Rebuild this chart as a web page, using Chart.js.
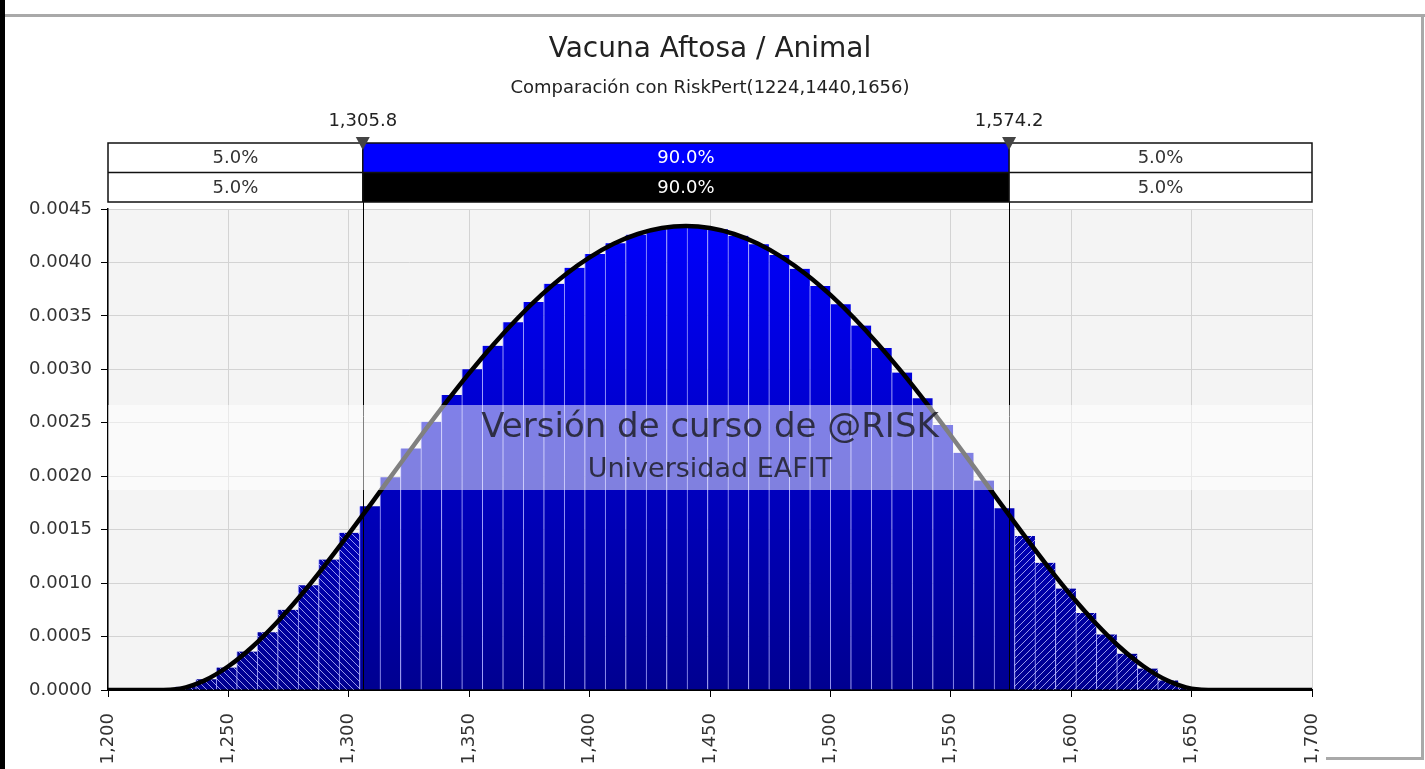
<!DOCTYPE html>
<html>
<head>
<meta charset="utf-8">
<script src="https://cdn.jsdelivr.net/npm/chart.js@4/dist/chart.umd.min.js"></script>
<style>
  html, body { margin: 0; padding: 0; background: #fff; }
  #wrap { position: relative; width: 1425px; height: 769px; overflow: hidden; }
  #c { position: absolute; left: 0; top: 0; }
  .edge { position: absolute; }
</style>
</head>
<body>
<div id="wrap">
  <canvas id="c" width="1425" height="769"></canvas>
  <div class="edge" style="left:0;top:0;width:5px;height:769px;background:#000"></div>
  <div class="edge" style="left:5px;top:14px;width:1420px;height:3px;background:#a9a9a9"></div>
  <div class="edge" style="left:1421px;top:14px;width:3px;height:746px;background:#a9a9a9"></div>
  <div class="edge" style="left:1326px;top:757px;width:98px;height:3px;background:#a9a9a9"></div>
</div>
<script>
// histogram bins (centre of each bin) and simulated density
const binCenters = [1232.2, 1240.7, 1249.2, 1257.7, 1266.2, 1274.7, 1283.2, 1291.7, 1300.2, 1308.7,
  1317.2, 1325.7, 1334.2, 1342.7, 1351.2, 1359.7, 1368.2, 1376.7, 1385.2, 1393.7,
  1402.2, 1410.7, 1419.2, 1427.7, 1436.2, 1444.7, 1453.2, 1461.7, 1470.2, 1478.7,
  1487.2, 1495.7, 1504.2, 1512.7, 1521.2, 1529.7, 1538.2, 1546.7, 1555.2, 1563.7,
  1572.2, 1580.7, 1589.2, 1597.7, 1606.2, 1614.7, 1623.2, 1631.7, 1640.2, 1648.7];
const density = [0.00003, 0.00010, 0.00021, 0.00036, 0.00054, 0.00075, 0.00098, 0.00122, 0.00147, 0.00172,
  0.00199, 0.00226, 0.00251, 0.00276, 0.00300, 0.00322, 0.00344, 0.00363, 0.00380, 0.00395,
  0.00408, 0.00418, 0.00426, 0.00431, 0.00434, 0.00433, 0.00431, 0.00425, 0.00417, 0.00407,
  0.00394, 0.00378, 0.00361, 0.00341, 0.00320, 0.00297, 0.00273, 0.00248, 0.00222, 0.00196,
  0.00170, 0.00144, 0.00119, 0.00095, 0.00072, 0.00052, 0.00034, 0.00020, 0.00009, 0.00002];

// RiskPert(1224,1440,1656) comparison curve
const curveX = [1200, 1210, 1220, 1230, 1240, 1250, 1260, 1270, 1280, 1290,
  1300, 1310, 1320, 1330, 1340, 1350, 1360, 1370, 1380, 1390,
  1400, 1410, 1420, 1430, 1440, 1450, 1460, 1470, 1480, 1490,
  1500, 1510, 1520, 1530, 1540, 1550, 1560, 1570, 1580, 1590,
  1600, 1610, 1620, 1630, 1640, 1650, 1660, 1670, 1680, 1690, 1700];
const curveY = [0, 0, 0, 0.000013, 0.000088, 0.000222, 0.000405, 0.000629, 0.000884, 0.001164,
  0.001460, 0.001765, 0.002075, 0.002381, 0.002679, 0.002964, 0.003231, 0.003476, 0.003696, 0.003888,
  0.004048, 0.004175, 0.004266, 0.004322, 0.004340, 0.004322, 0.004266, 0.004175, 0.004048, 0.003888,
  0.003696, 0.003476, 0.003231, 0.002964, 0.002679, 0.002381, 0.002075, 0.001765, 0.001460, 0.001164,
  0.000884, 0.000629, 0.000405, 0.000222, 0.000088, 0.000013, 0, 0, 0, 0, 0];

const cutoffs = [1305.8, 1574.2];
const bandSim = ['5.0%', '90.0%', '5.0%'];
const bandFit = ['5.0%', '90.0%', '5.0%'];
const titleText = 'Vacuna Aftosa / Animal';
const subtitleText = 'Comparación con RiskPert(1224,1440,1656)';
const watermark = ['Versión de curso de @RISK', 'Universidad EAFIT'];

const FONT = '"DejaVu Sans", Verdana, sans-serif';
const canvas = document.getElementById('c');
const ctx = canvas.getContext('2d');

function hatch(up) {
  const t = document.createElement('canvas');
  t.width = 7; t.height = 7;
  const g = t.getContext('2d');
  g.strokeStyle = 'rgba(190,190,255,0.8)';
  g.lineWidth = 1;
  g.beginPath();
  if (up) { g.moveTo(-1, 8); g.lineTo(8, -1); }
  else { g.moveTo(-1, -1); g.lineTo(8, 8); }
  g.stroke();
  return ctx.createPattern(t, 'repeat');
}
const hatchLeft = hatch(false);
const hatchRight = hatch(true);

const plotBg = {
  id: 'plotBg',
  beforeDraw(chart) {
    const a = chart.chartArea, c = chart.ctx;
    c.save();
    c.fillStyle = '#f4f4f4';
    c.fillRect(a.left, a.top, a.right - a.left, a.bottom - a.top);
    c.restore();
  }
};

const decor = {
  id: 'decor',
  afterDatasetsDraw(chart) {
    const a = chart.chartArea, c = chart.ctx, xs = chart.scales.x;
    const cx = (a.left + a.right) / 2;
    const x1 = xs.getPixelForValue(cutoffs[0]);
    const x2 = xs.getPixelForValue(cutoffs[1]);
    const r1 = a.top - 66, rh = 29.5;
    c.save();
    // titles
    c.fillStyle = '#222';
    c.textAlign = 'center';
    c.textBaseline = 'middle';
    c.font = '28px ' + FONT;
    c.fillText(titleText, cx, 50);
    c.font = '18px ' + FONT;
    c.fillText(subtitleText, cx, 88);

    // delimiter lines
    c.strokeStyle = '#000';
    c.lineWidth = 1;
    [x1, x2].forEach(x => {
      c.beginPath();
      c.moveTo(Math.round(x) + 0.5, r1);
      c.lineTo(Math.round(x) + 0.5, a.bottom);
      c.stroke();
    });

    // percentage bars
    c.fillStyle = '#fff';
    c.fillRect(a.left, r1, a.right - a.left, rh * 2);
    c.fillStyle = '#0000ff';
    c.fillRect(x1, r1, x2 - x1, rh);
    c.fillStyle = '#000';
    c.fillRect(x1, r1 + rh, x2 - x1, rh);
    c.lineWidth = 1.5;
    c.strokeStyle = '#111';
    c.strokeRect(a.left, r1, a.right - a.left, rh * 2);
    c.beginPath();
    c.moveTo(a.left, r1 + rh); c.lineTo(a.right, r1 + rh);
    c.moveTo(x1, r1); c.lineTo(x1, r1 + 2 * rh);
    c.moveTo(x2, r1); c.lineTo(x2, r1 + 2 * rh);
    c.stroke();

    c.font = '18px ' + FONT;
    const mids = [(a.left + x1) / 2, (x1 + x2) / 2, (x2 + a.right) / 2];
    [bandSim, bandFit].forEach((row, r) => {
      row.forEach((t, i) => {
        c.fillStyle = i === 1 ? '#fff' : '#333';
        c.fillText(t, mids[i], r1 + rh * r + rh / 2 + 1);
      });
    });

    // delimiter markers
    cutoffs.forEach((v, i) => {
      const x = i === 0 ? x1 : x2;
      c.fillStyle = '#444';
      c.beginPath();
      c.moveTo(x - 7, r1 - 6); c.lineTo(x + 7, r1 - 6); c.lineTo(x, r1 + 7);
      c.closePath(); c.fill();
      c.fillStyle = '#222';
      c.fillText(v.toLocaleString('en-US', { minimumFractionDigits: 1, maximumFractionDigits: 1 }), x, r1 - 22);
    });
    c.restore();
  },
  afterDraw(chart) {
    const a = chart.chartArea, c = chart.ctx;
    const cx = (a.left + a.right) / 2;
    c.save();
    c.fillStyle = 'rgba(255,255,255,0.5)';
    c.fillRect(a.left, a.top + 196, a.right - a.left, 85);
    c.fillStyle = 'rgba(30,30,40,0.85)';
    c.textAlign = 'center';
    c.textBaseline = 'middle';
    c.font = '34px ' + FONT;
    c.fillText(watermark[0], cx, a.top + 219);
    c.font = '27px ' + FONT;
    c.fillText(watermark[1], cx, a.top + 261);
    c.restore();
  }
};

const tickFont = { family: FONT, size: 18 };

new Chart(ctx, {
  type: 'bar',
  data: {
    datasets: [
      {
        type: 'line',
        data: curveX.map((x, i) => ({ x, y: curveY[i] })),
        borderColor: '#000',
        borderWidth: 4.5,
        pointRadius: 0,
        cubicInterpolationMode: 'monotone',
        order: 0
      },
      {
        data: binCenters.map((x, i) => ({ x, y: (x < cutoffs[0] || x > cutoffs[1]) ? density[i] : null })),
        backgroundColor: c => (c.raw && c.raw.x < cutoffs[0]) ? hatchLeft : hatchRight,
        borderWidth: 0,
        grouped: false,
        barPercentage: 1,
        categoryPercentage: 1,
        order: 1
      },
      {
        data: binCenters.map((x, i) => ({ x, y: density[i] })),
        backgroundColor: c => {
          const a = c.chart.chartArea;
          if (!a) return '#0000ff';
          const g = c.chart.ctx.createLinearGradient(0, a.top, 0, a.bottom);
          g.addColorStop(0, '#0000ff');
          g.addColorStop(1, '#000090');
          return g;
        },
        borderColor: 'rgba(150,150,255,0.8)',
        borderWidth: { left: 1, right: 0, top: 0, bottom: 0 },
        borderSkipped: false,
        grouped: false,
        barPercentage: 1,
        categoryPercentage: 1,
        order: 2
      }
    ]
  },
  options: {
    responsive: false,
    animation: false,
    layout: { padding: { top: 209, left: 9, right: 113, bottom: 0 } },
    plugins: { legend: { display: false }, tooltip: { enabled: false } },
    scales: {
      x: {
        type: 'linear',
        min: 1200,
        max: 1700,
        offset: false,
        afterFit: s => { s.height = 79; },
        ticks: {
          stepSize: 50,
          autoSkip: false,
          minRotation: 90,
          maxRotation: 90,
          padding: 16,
          color: '#333',
          font: tickFont,
          callback: v => v.toLocaleString('en-US')
        },
        grid: { color: '#d3d3d3', tickColor: '#000', tickLength: 7, offset: false },
        border: { color: '#000', width: 2 }
      },
      y: {
        min: 0,
        max: 0.0045,
        afterFit: s => { s.width = 99; },
        ticks: {
          stepSize: 0.0005,
          padding: 9,
          color: '#333',
          font: tickFont,
          callback: v => v.toFixed(4)
        },
        grid: { color: '#d3d3d3', tickColor: '#000', tickLength: 7 },
        border: { color: '#000', width: 1.5 }
      }
    }
  },
  plugins: [plotBg, decor]
});
</script>
</body>
</html>
